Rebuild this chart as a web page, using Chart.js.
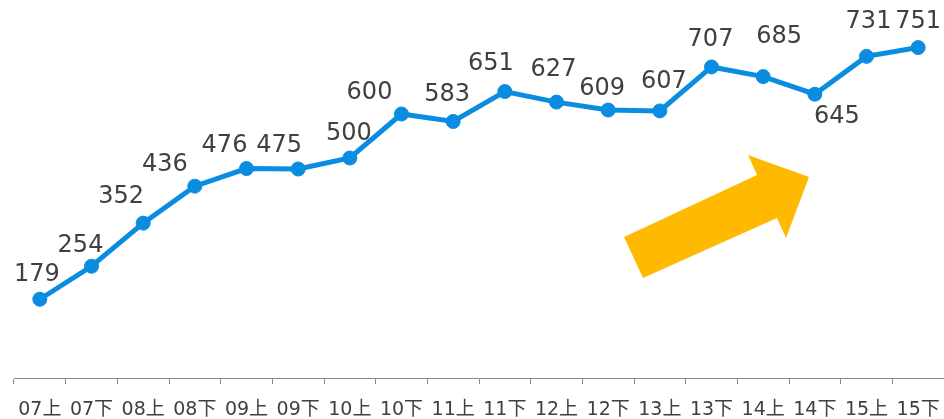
<!DOCTYPE html>
<html>
<head>
<meta charset="utf-8">
<script src="https://cdn.jsdelivr.net/npm/chart.js@4/dist/chart.umd.min.js"></script>
<style>
  html, body { margin: 0; padding: 0; background: #fff; }
  #wrap { width: 944px; height: 419px; position: relative; }
</style>
</head>
<body>
<div id="wrap"><canvas id="trendChart"></canvas></div>
<script>
// Data
const periods = ['07上', '07下', '08上', '08下', '09上', '09下', '10上', '10下', '11上',
                 '11下', '12上', '12下', '13上', '13下', '14上', '14下', '15上', '15下'];
const values = [179, 254, 352, 436, 476, 475, 500, 600, 583,
                651, 627, 609, 607, 707, 685, 645, 731, 751];

// Manual label nudges (dx, dy from the point), like the hand-placed labels in the original
const labelOffsets = [
    [-3, -24], [-11, -20], [-22, -26], [-30, -21], [-22, -23], [-19, -23],
    [-1, -24], [-32, -21], [-6, -27], [-14, -28], [-3, -32], [-6, -21],
    [4, -29], [-1, -27], [16, -40], [22, 23], [2, -35], [0, -26]
];

const lineBlue = '#0a8de0';
const textGrey = '#404040';

// Draws the value labels next to each point
const valueLabels = {
    id: 'valueLabels',
    afterDatasetsDraw(chart) {
        const ctx = chart.ctx;
        const meta = chart.getDatasetMeta(0);
        ctx.save();
        ctx.font = '24px "DejaVu Sans", Verdana, sans-serif';
        ctx.fillStyle = textGrey;
        ctx.textAlign = 'center';
        ctx.textBaseline = 'middle';
        meta.data.forEach(function(pt, i) {
            const off = labelOffsets[i] || [0, -24];
            ctx.fillText(String(values[i]), pt.x + off[0], pt.y + off[1]);
        });
        ctx.restore();
    }
};

// The big yellow "upward" arrow (decoration)
const trendArrow = {
    id: 'trendArrow',
    afterDraw(chart) {
        const ctx = chart.ctx;
        ctx.save();
        ctx.fillStyle = '#ffb900';
        ctx.beginPath();
        ctx.moveTo(624, 237);
        ctx.lineTo(757, 175);
        ctx.lineTo(748, 155);
        ctx.lineTo(809, 177);
        ctx.lineTo(786, 238);
        ctx.lineTo(777, 218);
        ctx.lineTo(643, 278);
        ctx.closePath();
        ctx.fill();
        ctx.restore();
    }
};

const trendConfig = {
    type: 'line',
    data: {
        labels: periods,
        datasets: [{
            data: values,
            borderColor: lineBlue,
            backgroundColor: lineBlue,
            borderWidth: 5,
            pointRadius: 7,
            pointBorderWidth: 1,
            pointBorderColor: lineBlue,
            pointBackgroundColor: lineBlue,
            tension: 0,
            fill: false,
            clip: false
        }]
    },
    options: {
        responsive: true,
        maintainAspectRatio: false,
        animation: false,
        layout: {
            autoPadding: false,
            padding: { left: 14, right: 0, top: 26, bottom: 0 }
        },
        plugins: {
            legend: { display: false },
            tooltip: { enabled: false }
        },
        scales: {
            x: {
                offset: true,
                grid: {
                    drawOnChartArea: false,
                    drawTicks: true,
                    tickLength: 6,
                    color: '#8c8c8c',
                    offset: true
                },
                border: { display: true, color: '#8c8c8c', width: 1 },
                ticks: {
                    color: textGrey,
                    font: { family: '"DejaVu Sans", "Noto Sans CJK JP", sans-serif', size: 19 },
                    padding: 15,
                    maxRotation: 0,
                    autoSkip: false
                },
                afterFit(scale) {
                    scale.height = 41;
                    scale.paddingLeft = 0;
                    scale.paddingRight = 0;
                }
            },
            y: {
                display: false,
                min: 0,
                max: 800
            }
        }
    },
    plugins: [valueLabels, trendArrow]
};

const trendCtx = document.getElementById('trendChart').getContext('2d');
new Chart(trendCtx, trendConfig);
</script>
</body>
</html>
